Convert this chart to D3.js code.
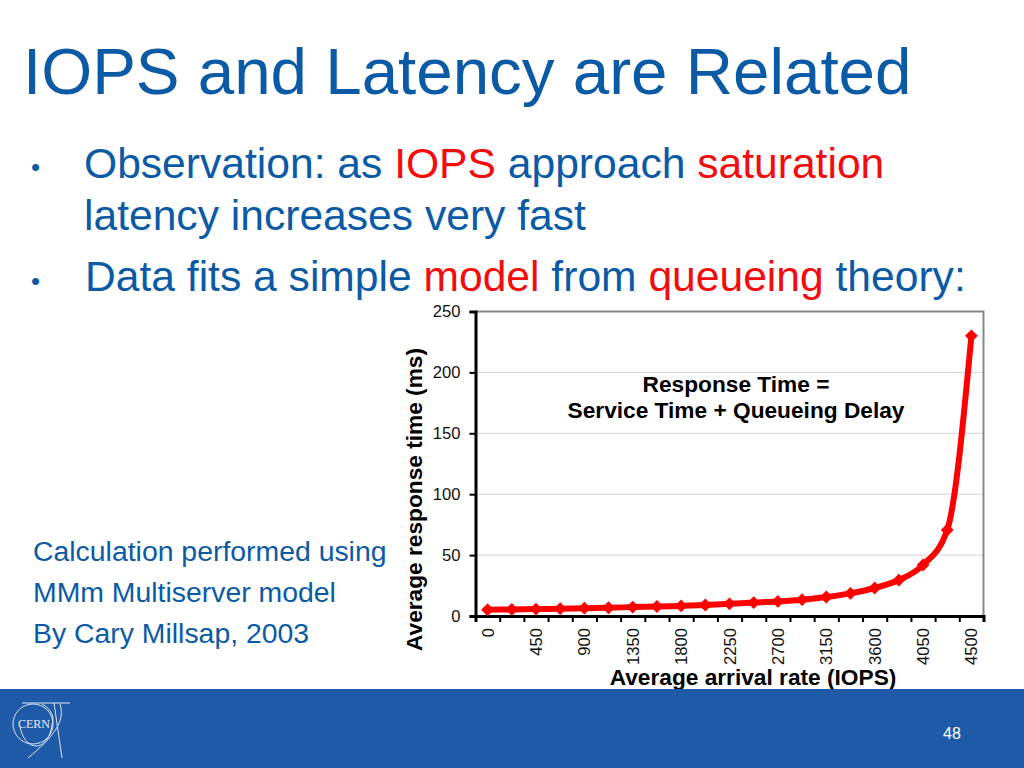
<!DOCTYPE html>
<html>
<head>
<meta charset="utf-8">
<script src="https://cdn.jsdelivr.net/npm/d3@7"></script>
<style>
  html, body { margin: 0; padding: 0; background: #fff; overflow: hidden; }
  text { font-family: "Liberation Sans", Arial, sans-serif; }
</style>
</head>
<body>
<div id="slide"></div>
<script>
const iops = ["0","225","450","675","900","1125","1350","1575","1800","2025","2250","2475","2700","2925","3150","3375","3600","3825","4050","4275","4500"];
const responseTime = [5.1,5.4,5.7,6,6.4,6.8,7.3,7.8,8.3,9,10,11,12,13.4,15.6,18.6,23,29.5,41.9,70.6,230];
const yTicks = [0,50,100,150,200,250];

const blue = "#0b5aa5", red = "#f40b0b", footer = "#1f5aa8";

let svg = d3.select("#slide").append("svg")
    .attr("width",1024)
    .attr("height",768);

svg.append("rect").attr("width",1024).attr("height",768).attr("fill","#fff");

// slide text
svg.append("text").attr("x",23).attr("y",94).attr("font-size",65.5).attr("fill",blue)
    .text("IOPS and Latency are Related");

function richLine(x, y, size, parts) {
  let t = svg.append("text").attr("x",x).attr("y",y).attr("font-size",size).attr("fill",blue);
  parts.forEach(p => {
    t.append("tspan").attr("fill", p[1] ? red : blue).text(p[0]);
  });
}

svg.append("text").attr("x",31).attr("y",176).attr("font-size",26).attr("fill",blue).text("•");
svg.append("text").attr("x",31).attr("y",290).attr("font-size",26).attr("fill",blue).text("•");
richLine(84,178,42.6,[["Observation: as ",0],["IOPS",1],[" approach ",0],["saturation",1]]);
richLine(84,230,42.6,[["latency increases very fast",0]]);
richLine(85,291,42.6,[["Data fits a simple ",0],["model",1],[" from ",0],["queueing",1],[" theory:",0]]);

svg.append("text").attr("x",33).attr("y",561).attr("font-size",28.4).attr("fill",blue).text("Calculation performed using");
svg.append("text").attr("x",33).attr("y",602).attr("font-size",28.4).attr("fill",blue).text("MMm Multiserver model");
svg.append("text").attr("x",33).attr("y",643).attr("font-size",28.4).attr("fill",blue).text("By Cary Millsap, 2003");

// chart
let margin = {top: 311.5, right: 40.5, bottom: 152, left: 475.5},
    width = 1024 - margin.left - margin.right,
    height = 768 - margin.top - margin.bottom;

let chart = svg.append("g").attr("transform","translate("+margin.left+","+margin.top+")");

let x = d3.scaleBand().domain(iops).range([0,width]);
let y = d3.scaleLinear().domain([0,250]).range([height,0]);
let edges = d3.scaleLinear().domain([0,iops.length]).range([0,width]);

// gridlines
chart.selectAll("line.grid")
    .data(yTicks.slice(1,5))
    .join("line")
    .attr("class","grid")
    .attr("x1",0).attr("x2",width)
    .attr("y1",d => y(d)).attr("y2",d => y(d))
    .attr("stroke","#d4d4d4").attr("stroke-width",1);

// grey frame top and right
chart.append("path")
    .attr("d","M0,0H"+width+"V"+height)
    .attr("fill","none").attr("stroke","#868686").attr("stroke-width",2);

// y axis
let yAxis = chart.append("g")
    .call(d3.axisLeft(y).tickValues(yTicks).tickSize(6).tickPadding(9));
yAxis.select(".domain").attr("stroke","#000").attr("stroke-width",3);
yAxis.selectAll("line").attr("stroke","#000").attr("stroke-width",2);
yAxis.selectAll("text").attr("font-size",16.6).attr("fill","#111")
    .style("font-family",'"Liberation Sans", Arial, sans-serif');

// x axis, ticks sit between the categories
let xTicks = chart.append("g").attr("transform","translate(0,"+height+")")
    .call(d3.axisBottom(edges).tickValues(d3.range(iops.length+1)).tickSize(6).tickFormat(""));
xTicks.select(".domain").attr("stroke","#000").attr("stroke-width",3);
xTicks.selectAll("line").attr("stroke","#000").attr("stroke-width",2);

let xLabels = chart.append("g").attr("transform","translate(0,"+height+")")
    .call(d3.axisBottom(x).tickValues(iops.filter((d,i) => i%2===0)).tickSize(0).tickFormat(d => d));
xLabels.select(".domain").remove();
xLabels.selectAll("text")
    .attr("font-size",16.6).attr("fill","#111")
    .style("font-family",'"Liberation Sans", Arial, sans-serif')
    .attr("text-anchor","end")
    .attr("dy",0)
    .attr("transform","translate(6,12) rotate(-90)")
    .attr("x",0).attr("y",0);

// series
let line = d3.line()
    .x((d,i) => x(iops[i]) + x.bandwidth()/2)
    .y(d => y(d))
    .curve(d3.curveMonotoneX);

chart.append("path")
    .datum(responseTime)
    .attr("d",line)
    .attr("fill","none")
    .attr("stroke","#ff0000")
    .attr("stroke-width",6)
    .attr("stroke-linejoin","round");

chart.selectAll("path.marker")
    .data(responseTime)
    .join("path")
    .attr("class","marker")
    .attr("d",d3.symbol().type(d3.symbolDiamond2).size(105))
    .attr("transform",(d,i) => "translate("+(x(iops[i])+x.bandwidth()/2)+","+y(d)+")")
    .attr("fill","#ff0000");

// annotation and axis titles
svg.append("text").attr("x",736).attr("y",392).attr("text-anchor","middle")
    .attr("font-size",22.7).attr("font-weight","bold").attr("fill","#000").text("Response Time =");
svg.append("text").attr("x",736).attr("y",418).attr("text-anchor","middle")
    .attr("font-size",22.7).attr("font-weight","bold").attr("fill","#000").text("Service Time + Queueing Delay");
svg.append("text").attr("x",753).attr("y",685).attr("text-anchor","middle")
    .attr("font-size",22.7).attr("font-weight","bold").attr("fill","#000").text("Average arrival rate (IOPS)");
svg.append("text").attr("transform","translate(422,499.5) rotate(-90)").attr("text-anchor","middle")
    .attr("font-size",22.7).attr("font-weight","bold").attr("fill","#000").text("Average response time (ms)");

// footer
svg.append("rect").attr("x",0).attr("y",689).attr("width",1024).attr("height",79).attr("fill",footer);
svg.append("text").attr("x",943).attr("y",739).attr("font-size",16).attr("fill","#fff").text("48");

// CERN logo
let logo = svg.append("g").attr("fill","none").attr("stroke","#dbe6f3").attr("stroke-width",1);
logo.append("circle").attr("cx",33).attr("cy",724).attr("r",20);
logo.append("path").attr("d","M22,703H70M54,703L62,758M60,704C66,722 52,738 28,758M20,726C24,752 50,756 53,718C52,712 48,707 42,704");
svg.append("text").attr("x",18).attr("y",728).attr("font-size",12).attr("fill","#e6eef7")
    .style("font-family",'"Liberation Serif", serif').text("CERN");
</script>
</body>
</html>
